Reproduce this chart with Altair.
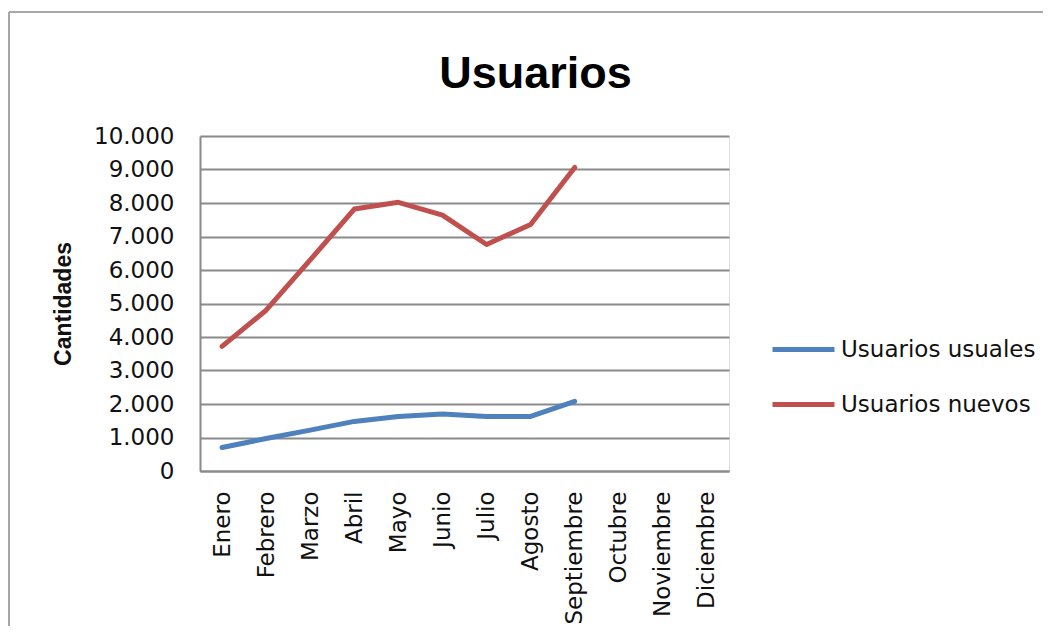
import altair as alt
import pandas as pd

months = ["Enero", "Febrero", "Marzo", "Abril", "Mayo", "Junio", "Julio",
          "Agosto", "Septiembre", "Octubre", "Noviembre", "Diciembre"]
usuarios_usuales = [700, 970, 1220, 1480, 1630, 1700, 1630, 1630, 2080]
usuarios_nuevos = [3720, 4800, 6300, 7820, 8020, 7640, 6760, 7360, 9060]
series_names = ["Usuarios usuales", "Usuarios nuevos"]
series_colors = ["#4F81BD", "#C0504D"]

rows = []
for name, vals in zip(series_names, [usuarios_usuales, usuarios_nuevos]):
    for m, v in zip(months, vals):
        rows.append({"Mes": m, "Serie": name, "Valor": v})
df = pd.DataFrame(rows)

GRID = "#8a8a8a"
TXT = "#111111"

lines = alt.Chart(df).mark_line(strokeWidth=5, strokeJoin="round", strokeCap="round").encode(
    x=alt.X("Mes:N", scale=alt.Scale(domain=months, paddingInner=0, paddingOuter=0.5),
            axis=alt.Axis(title=None, labelAngle=-90, labelFont="DejaVu Sans", labelFontSize=23,
                          labelColor=TXT, labelPadding=20, ticks=False, domainColor=GRID,
                          domainWidth=2, grid=False)),
    y=alt.Y("Valor:Q", scale=alt.Scale(domain=[0, 10000], nice=False),
            axis=alt.Axis(title="Cantidades", values=list(range(0, 10001, 1000)),
                          labelExpr="replace(format(datum.value, ','), ',', '.')",
                          labelFont="DejaVu Sans", labelFontSize=23, labelColor=TXT,
                          labelPadding=26, ticks=False, domainColor=GRID, domainWidth=2,
                          gridColor=GRID, gridWidth=2, gridOpacity=1,
                          titleFont="Liberation Sans", titleFontSize=23, titleFontWeight="bold",
                          titleColor=TXT, titlePadding=18)),
    color=alt.Color("Serie:N", scale=alt.Scale(domain=series_names, range=series_colors),
                    legend=alt.Legend(title=None, orient="none", legendX=570, legendY=180,
                                      symbolType="stroke", symbolSize=3844, symbolStrokeWidth=5,
                                      labelFont="DejaVu Sans", labelFontSize=23, labelColor=TXT,
                                      labelOffset=4, rowPadding=9, padding=0, labelLimit=0)),
)

frame = pd.DataFrame({"a": [0]})
border_top = alt.Chart(frame).mark_rule(stroke="#a6a6a6", strokeWidth=2).encode(
    x=alt.value(-191), x2=alt.value(1000), y=alt.value(-124)
)
border_left = alt.Chart(frame).mark_rule(stroke="#a6a6a6", strokeWidth=2).encode(
    x=alt.value(-191), y=alt.value(-124), y2=alt.value(700)
)

chart = alt.layer(border_top, border_left, lines).properties(
    width=529, height=335,
    title=alt.TitleParams(text="Usuarios", font="Liberation Sans", fontSize=45, fontWeight="bold",
                          color="#000000", anchor="middle", dx=71, offset=-122, baseline="alphabetic"),
    autosize=alt.AutoSizeParams(type="none"),
    padding={"left": 192, "top": 128, "right": 314, "bottom": 155},
).configure_view(stroke=None).configure(background="white")

chart.save("out.html", embed_options={"renderer": "svg", "actions": False})
